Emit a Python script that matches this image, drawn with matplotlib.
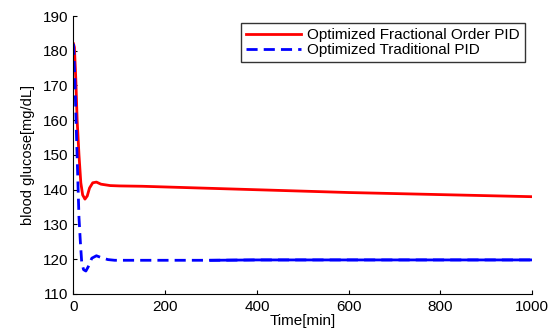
import matplotlib
matplotlib.use("Agg")
import matplotlib.pyplot as plt

plt.rcParams['font.family'] = ['Liberation Sans', 'DejaVu Sans']

# Optimized Fractional Order PID
t_frac = [0, 2, 5, 8, 12, 16, 20, 25, 30, 35, 42, 50, 60, 80, 100, 150, 200,
          300, 400, 500, 600, 700, 800, 900, 1000]
g_frac = [182, 181, 172, 160, 150, 142, 138.5, 137.3, 138.2, 140.5, 142.0, 142.2,
          141.6, 141.2, 141.1, 141.0, 140.8, 140.4, 140.0, 139.6, 139.2, 138.9,
          138.6, 138.3, 138.0]

# Optimized Traditional PID
t_trad = [0, 3, 6, 9, 12, 15, 18, 22, 27, 32, 40, 50, 60, 75, 90, 200, 300,
          400, 600, 800, 1000]
g_trad = [182, 172, 158, 145, 132, 125, 119, 117.0, 116.6, 117.8, 120.3, 121.0,
          120.5, 119.9, 119.7, 119.7, 119.7, 119.8, 119.8, 119.8, 119.8]

x_ticks = [0, 200, 400, 600, 800, 1000]
y_ticks = [110, 120, 130, 140, 150, 160, 170, 180, 190]

fig = plt.figure(figsize=(5.55, 3.32), dpi=100)
ax = fig.add_axes([0.1324, 0.1145, 0.8262, 0.8373])

ax.plot(t_frac, g_frac, color='#ff0000', lw=2.0, label='Optimized Fractional Order PID')
ax.plot(t_trad, g_trad, color='#0000ff', lw=2.0, ls=(0, (4, 2.2)),
        label='Optimized Traditional PID')
# noisy (solid-looking) part of the traditional PID trace
ts = [t for t in t_trad if t >= 300]
gs = [g for t, g in zip(t_trad, g_trad) if t >= 300]
ax.plot(ts, gs, color='#0000ff', lw=2.0)

ax.set_xlim(0, 1000)
ax.set_ylim(110, 190)
ax.set_xticks(x_ticks)
ax.set_yticks(y_ticks)
ax.tick_params(direction='in', length=3, width=0.8, labelsize=11, pad=4,
               colors='black')
for s in ['top', 'right']:
    ax.spines[s].set_visible(False)
for s in ['left', 'bottom']:
    ax.spines[s].set_linewidth(0.8)

ax.set_xlabel('Time[min]', fontsize=11, labelpad=0)
ax.set_ylabel('blood glucose[mg/dL]', fontsize=10.5, labelpad=5)

leg = ax.legend(loc='upper right', bbox_to_anchor=(0.985, 0.975), borderaxespad=0,
                fontsize=11, frameon=True, fancybox=False, handlelength=3.6,
                handletextpad=0.4, labelspacing=0.05, borderpad=0.35)
leg.get_frame().set_edgecolor('black')
leg.get_frame().set_linewidth(1.0)

fig.savefig('out.png', dpi=100)
